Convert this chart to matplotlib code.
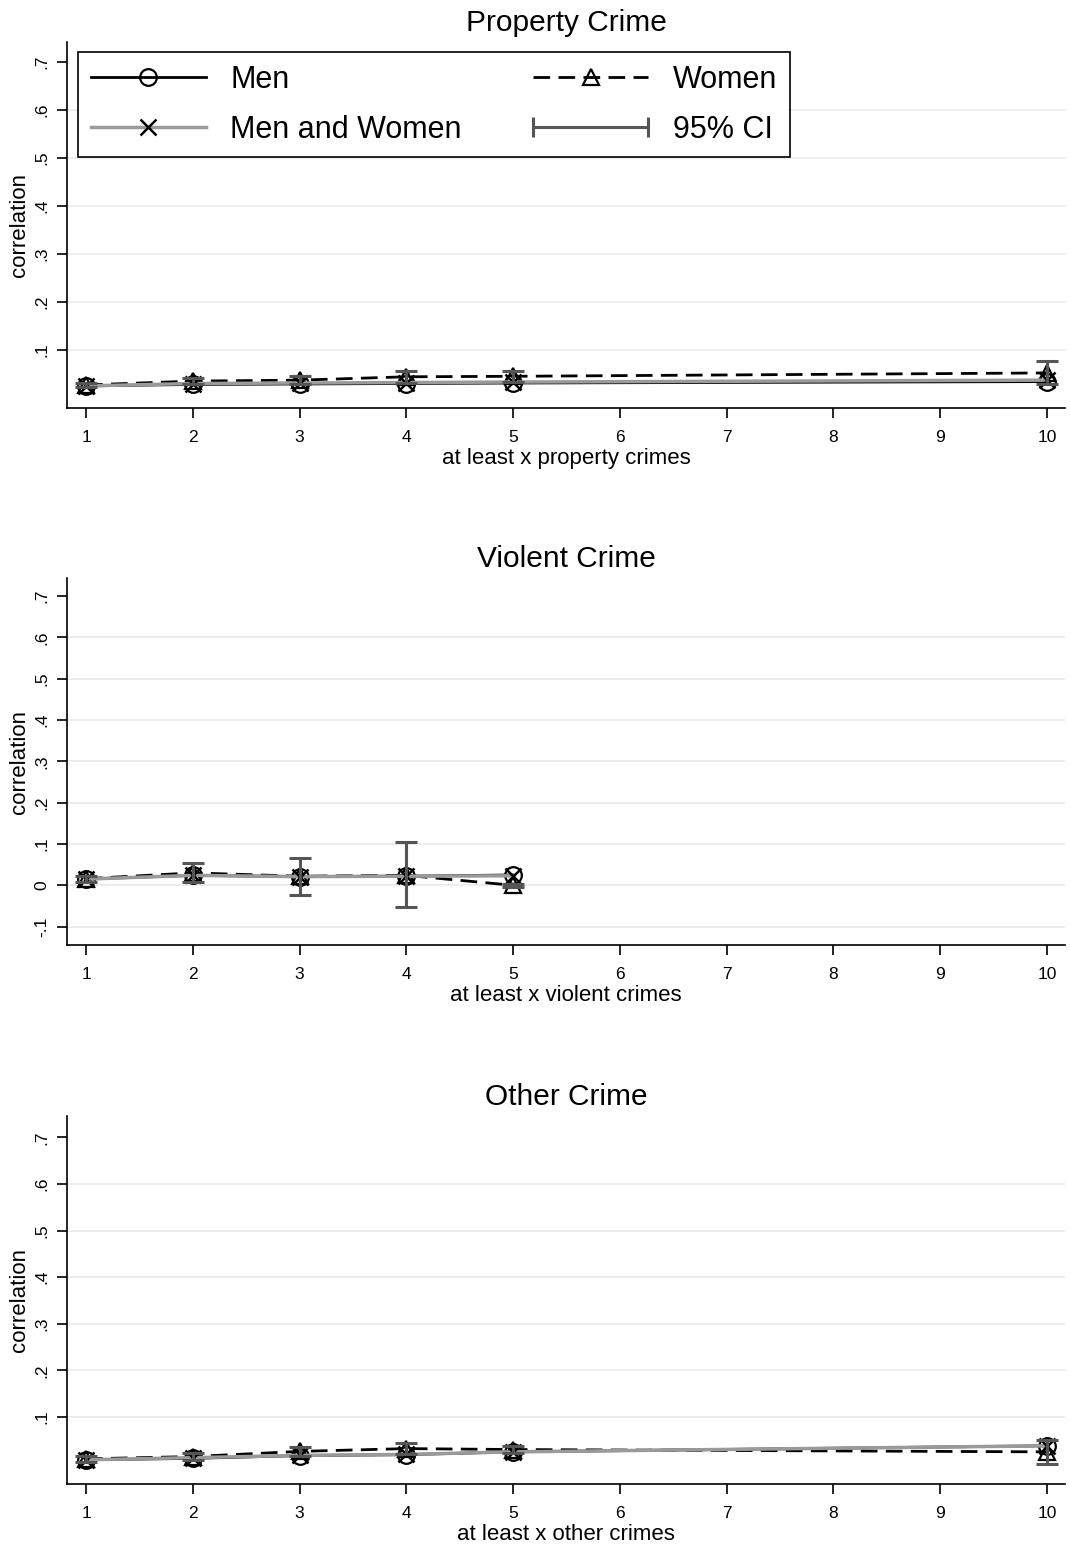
import numpy as np
import matplotlib
matplotlib.use('Agg')
import matplotlib.pyplot as plt
from matplotlib.lines import Line2D
from matplotlib.legend_handler import HandlerLine2D

plt.rcParams['font.family'] = ['Liberation Sans', 'DejaVu Sans']

# data
x_prop = [1, 2, 3, 4, 5, 10]
prop_men = [0.025, 0.028, 0.029, 0.030, 0.031, 0.034]
prop_women = [0.027, 0.035, 0.037, 0.044, 0.045, 0.052]
prop_both = [0.025, 0.030, 0.031, 0.032, 0.033, 0.037]
prop_women_lo = [0.022, 0.028, 0.029, 0.031, 0.033, 0.028]
prop_women_hi = [0.032, 0.042, 0.045, 0.057, 0.057, 0.077]

x_viol = [1, 2, 3, 4, 5]
viol_men = [0.015, 0.024, 0.021, 0.022, 0.025]
viol_women = [0.016, 0.030, 0.022, 0.024, 0.000]
viol_both = [0.015, 0.024, 0.021, 0.022, 0.023]
viol_women_lo = [0.008, 0.008, -0.024, -0.053, -0.003]
viol_women_hi = [0.022, 0.055, 0.065, 0.104, 0.003]

x_oth = [1, 2, 3, 4, 5, 10]
oth_men = [0.008, 0.011, 0.017, 0.019, 0.025, 0.038]
oth_women = [0.010, 0.015, 0.026, 0.032, 0.030, 0.025]
oth_both = [0.008, 0.0125, 0.0175, 0.0195, 0.025, 0.038]
oth_women_lo = [0.004, 0.008, 0.016, 0.020, 0.022, 0.000]
oth_women_hi = [0.016, 0.022, 0.036, 0.045, 0.038, 0.050]

titles = ['Property Crime', 'Violent Crime', 'Other Crime']
xlabels = ['at least x property crimes', 'at least x violent crimes',
           'at least x other crimes']
xticks = list(range(1, 11))
yticks_list = [[0.1, 0.2, 0.3, 0.4, 0.5, 0.6, 0.7],
               [-0.1, 0, 0.1, 0.2, 0.3, 0.4, 0.5, 0.6, 0.7],
               [0.1, 0.2, 0.3, 0.4, 0.5, 0.6, 0.7]]
ylims = [(-0.021, 0.741), (-0.1446, 0.744), (-0.044, 0.746)]

panels = [
    (x_prop, prop_men, prop_women, prop_both, prop_women_lo, prop_women_hi),
    (x_viol, viol_men, viol_women, viol_both, viol_women_lo, viol_women_hi),
    (x_oth, oth_men, oth_women, oth_both, oth_women_lo, oth_women_hi),
]

W, H = 1070, 1547
fig = plt.figure(figsize=(W / 100, H / 100), dpi=100)
boxes = [(42, 408), (578, 945), (1116, 1484)]

CI_COL = '#555555'
GRAY = '#9a9a9a'
GRID = '#e8eff1'


def stata_fmt(v):
    if abs(v) < 1e-9:
        return '0'
    s = f'{v:.1f}'
    return s.replace('0.', '.')


for i, (top, bot) in enumerate(boxes):
    ax = fig.add_axes([67 / W, 1 - bot / H, (1065 - 67) / W, (bot - top) / H])
    x, men, women, both, lo, hi = panels[i]
    x = np.array(x)
    women = np.array(women)

    l_w, = ax.plot(x, women, color='black', ls=(0, (6, 3)), lw=2, marker='^',
                   ms=12, mfc='none', mec='black', mew=1.6, zorder=3)
    l_m, = ax.plot(x, men, color='black', lw=2, marker='o', ms=12, mfc='none',
                   mec='black', mew=1.6, zorder=3)
    l_b, = ax.plot(x, both, color=GRAY, lw=2.5, marker='x', ms=12, mec='black',
                   mew=1.8, zorder=4)
    yerr = np.vstack([women - np.array(lo), np.array(hi) - women])
    ax.errorbar(x, women, yerr=yerr, fmt='none', ecolor=CI_COL, elinewidth=2.2,
                capsize=8, capthick=2.2, zorder=5)

    ax.set_xlim(0.822, 10.17)
    ax.set_ylim(*ylims[i])
    ax.set_xticks(xticks)
    ax.set_xticklabels([str(t) for t in xticks], fontsize=12.5)
    yt = yticks_list[i]
    ax.set_yticks(yt)
    ax.set_yticklabels([stata_fmt(v) for v in yt], fontsize=12.5,
                       rotation=90, va='center')
    ax.tick_params(axis='both', direction='out', length=7, width=1.2)
    ax.tick_params(axis='x', pad=9)
    ax.tick_params(axis='y', pad=6)

    ax.yaxis.grid(True, color=GRID, lw=1.5)
    ax.set_axisbelow(True)
    ax.get_ygridlines()[-1].set_visible(False)

    for s in ['top', 'right']:
        ax.spines[s].set_visible(False)
    for s in ['left', 'bottom']:
        ax.spines[s].set_linewidth(1.2)

    ax.set_title(titles[i], fontsize=21.5, pad=8)
    ax.set_xlabel(xlabels[i], fontsize=16, labelpad=2)
    ax.set_ylabel('correlation', fontsize=16, labelpad=3)

    if i == 0:
        ci_handle = Line2D([], [], color=CI_COL, lw=2.2, marker='|', ms=14,
                           mew=2.2)
        # column-wise fill: Men / Men and Women, then Women / 95% CI
        leg = ax.legend([l_m, l_b, l_w, ci_handle],
                        ['Men', 'Men and Women', 'Women', '95% CI'],
                        ncol=2, loc='upper left', bbox_to_anchor=(0.011, 0.973),
                        borderaxespad=0, fontsize=22, handlelength=3.76,
                        handletextpad=0.8, columnspacing=2.35, labelspacing=0.65,
                        borderpad=0.42, fancybox=False, framealpha=1,
                        edgecolor='black',
                        handler_map={ci_handle: HandlerLine2D(numpoints=2,
                                                              marker_pad=0)})
        leg.get_frame().set_linewidth(1.2)

fig.savefig('out.png', dpi=100)
